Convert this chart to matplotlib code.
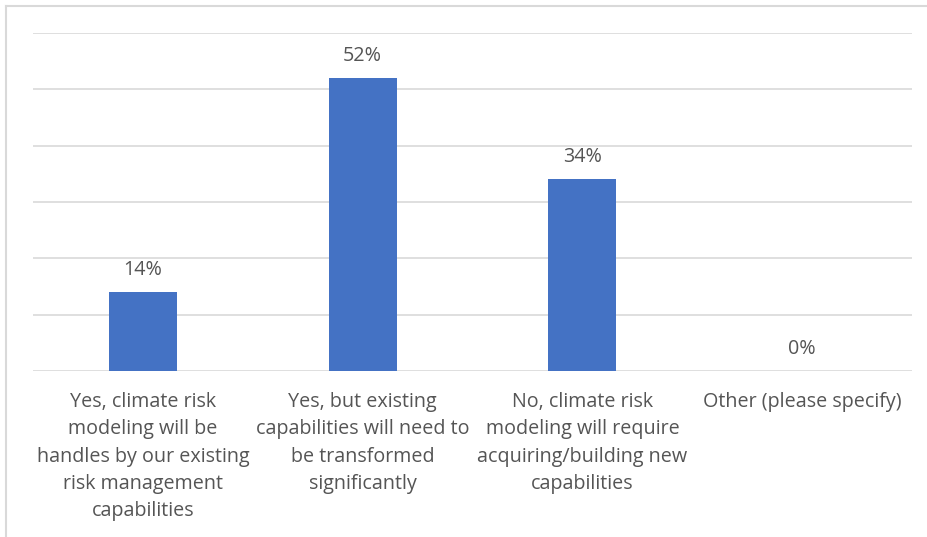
import matplotlib.pyplot as plt
from matplotlib.lines import Line2D

categories = [
    'Yes, climate risk\nmodeling will be\nhandles by our existing\nrisk management\ncapabilities',
    'Yes, but existing\ncapabilities will need to\nbe transformed\nsignificantly',
    'No, climate risk\nmodeling will require\nacquiring/building new\ncapabilities',
    'Other (please specify)',
]
shares = [0.14, 0.52, 0.34, 0.0]
value_labels = ['14%', '52%', '34%', '0%']

plt.rcParams['font.family'] = ['Open Sans', 'DejaVu Sans']
text_color = '#555555'

fig = plt.figure(figsize=(9.27, 5.37), dpi=100)
ax = fig.add_axes([33 / 927, 1 - 371 / 537, (912 - 33) / 927, (371 - 33) / 537])

x = range(len(categories))
bars = ax.bar(x, shares, width=0.31, color='#4472C4', zorder=3)

ax.set_xlim(-0.5, len(categories) - 0.5)
ax.set_ylim(0, 0.6)
ax.set_yticks([i / 10 for i in range(7)])
ax.yaxis.grid(True, color='#D9D9D9', linewidth=1.2, zorder=0)
ax.tick_params(axis='y', left=False, labelleft=False)
for side in ax.spines.values():
    side.set_visible(False)

ax.set_xticks(list(x))
ax.set_xticklabels(categories, fontsize=14.2, color=text_color, linespacing=1.49)
ax.tick_params(axis='x', length=0, pad=15)

for bar, lbl in zip(bars, value_labels):
    ax.annotate(lbl, (bar.get_x() + bar.get_width() / 2, bar.get_height()),
                xytext=(0, 9), textcoords='offset points',
                ha='center', va='bottom', fontsize=14.2, color=text_color)

# chart frame (left and top edges)
fig.add_artist(Line2D([6 / 927, 6 / 927], [0, 1 - 6 / 537],
                      transform=fig.transFigure, color='#D9D9D9', linewidth=1.5))
fig.add_artist(Line2D([6 / 927, 1], [1 - 6 / 537, 1 - 6 / 537],
                      transform=fig.transFigure, color='#D9D9D9', linewidth=1.5))

fig.savefig('out.png', dpi=100)
